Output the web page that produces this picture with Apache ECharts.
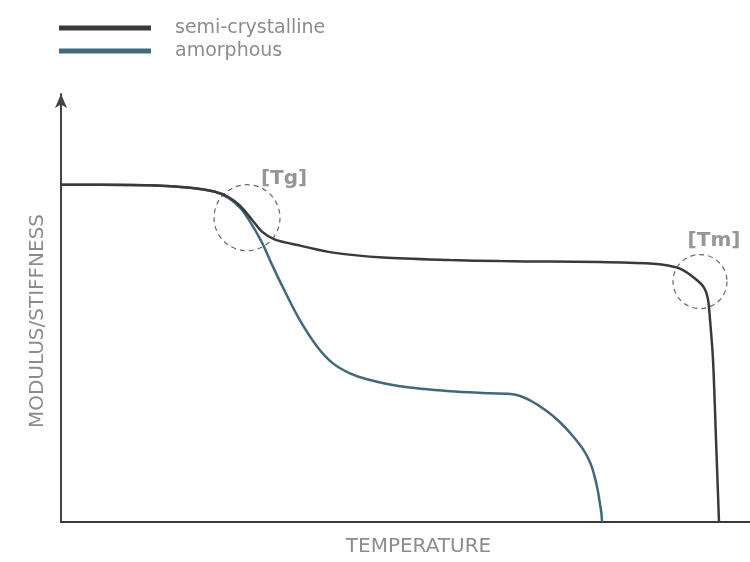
<!DOCTYPE html>
<html>
<head>
<meta charset="utf-8">
<script src="https://cdn.jsdelivr.net/npm/echarts@6/dist/echarts.min.js"></script>
<style>html,body{margin:0;padding:0;background:#fff}#c{width:750px;height:562px}</style>
</head>
<body>
<div id="c"></div>
<script>
// Temperature (arbitrary units) and modulus (arbitrary units)
var semiTemp = [0,39,89,129,154,167,179,191,201,214,239,272,322,389,439,489,539,589,607,621,634,643,647,649,652,655,658];
var semiMod  = [338,338,337.5,335,331,326,317,303,291,283,277,270,265,262.5,261.5,261,260.5,259,257,253,244,235,223,203,163,83,0];
var amorTemp = [0,39,89,129,154,167,179,189,201,211,222,239,256,272,289,306,339,389,429,452,469,486,499,512,522,529,533,536.5,539,540.5,541];
var amorMod  = [338,338,337.5,335,331,325,315,301,280,258,235,202,176,159,149,143,136,131,129,128,122,111,100,86,73,60,48,33,18,8,0];
var transNames = ['[Tg]','[Tm]'];
var transTemp = [186,639];
var transMod  = [305,241];
var seriesNames = ['semi-crystalline','amorphous'];

function zip(a,b){return a.map(function(v,i){return [v,b[i]];});}

var chart = echarts.init(document.getElementById('c'), null, {renderer:'canvas'});
var textColor = '#8a8d8d';
var fam = 'DejaVu Sans';
chart.setOption({
  animation:false,
  backgroundColor:'#fff',
  textStyle:{fontFamily:fam},
  grid:{left:61,right:0,top:94,bottom:39,containLabel:false},
  legend:{
    data:[
      {name:seriesNames[0],textStyle:{padding:[0,0,19,19]}},
      {name:seriesNames[1],textStyle:{padding:[0,0,8,19]}}
    ],
    orient:'vertical',
    left:59,top:9.5,padding:0,
    icon:'rect',
    itemWidth:92,itemHeight:5,itemGap:-8.5,
    textStyle:{fontSize:19,color:textColor,fontFamily:fam,lineHeight:18}
  },
  xAxis:{
    type:'value',min:0,max:689,
    name:'TEMPERATURE',nameLocation:'middle',nameGap:15,
    nameTextStyle:{fontSize:20,color:textColor,fontFamily:fam,padding:[0,0,0,26]},
    axisLine:{show:true,lineStyle:{color:'#3a3a3a',width:2}},
    axisTick:{show:false},axisLabel:{show:false},splitLine:{show:false}
  },
  yAxis:{
    type:'value',min:0,max:429,
    name:'MODULUS/STIFFNESS',nameLocation:'middle',nameGap:13,
    nameTextStyle:{fontSize:20,color:textColor,fontFamily:fam,padding:[0,26,0,0]},
    axisLine:{show:true,symbol:['none','arrow'],symbolSize:[9,14],lineStyle:{color:'#444',width:2}},
    axisTick:{show:false},axisLabel:{show:false},splitLine:{show:false}
  },
  series:[
    {
      name:seriesNames[1],type:'line',smooth:0.3,showSymbol:false,
      data:zip(amorTemp,amorMod),
      lineStyle:{color:'#41697a',width:2.5},itemStyle:{color:'#41697a'},z:2
    },
    {
      name:seriesNames[0],type:'line',smooth:0.3,showSymbol:false,
      data:zip(semiTemp,semiMod),
      lineStyle:{color:'#3a3a3a',width:2.5},itemStyle:{color:'#3a3a3a'},z:3
    },
    {
      type:'scatter',z:4,silent:true,
      data:[
        {value:[transTemp[0],transMod[0]],name:transNames[0],symbolSize:66,label:{offset:[37,-39]}},
        {value:[transTemp[1],transMod[1]],name:transNames[1],symbolSize:54,label:{offset:[14,-41]}}
      ],
      itemStyle:{color:'rgba(0,0,0,0)',borderColor:'#444',borderWidth:1.2,borderType:[5,4]},
      label:{show:true,position:'inside',formatter:'{b}',fontSize:20,fontWeight:'bold',color:'#787d7d',fontFamily:fam}
    }
  ]
});
</script>
</body>
</html>
